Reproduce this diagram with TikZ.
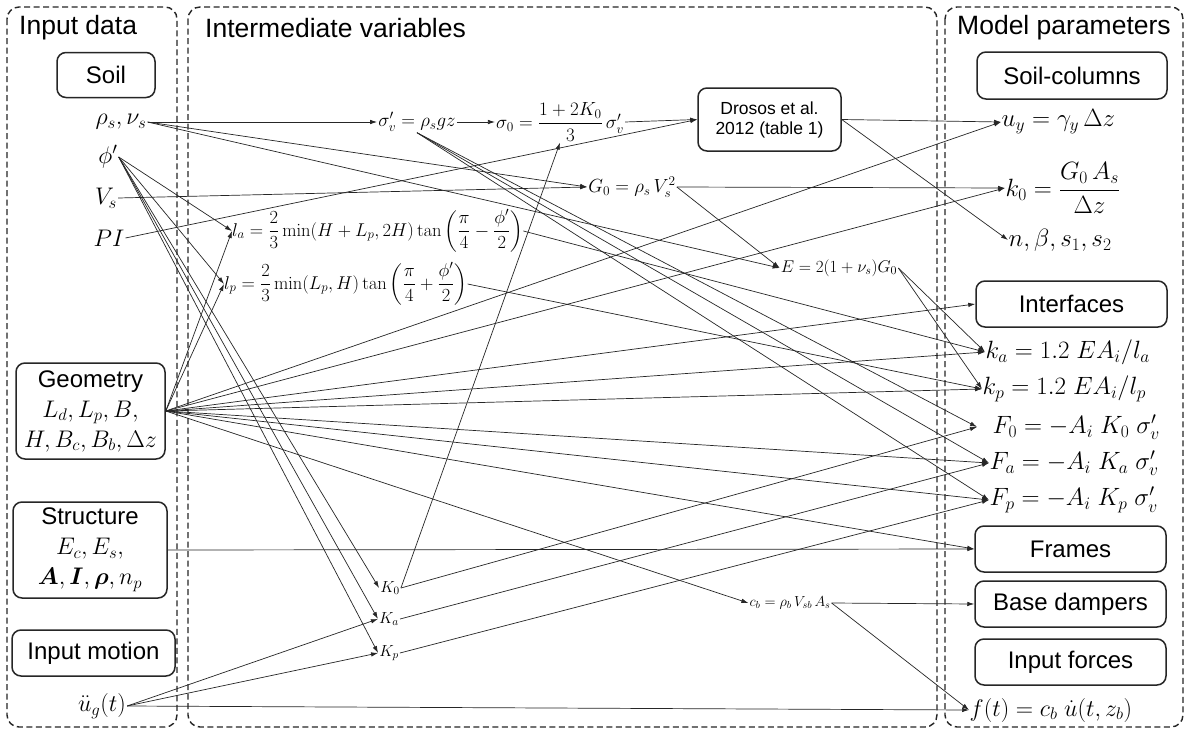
\RequirePackage{fix-cm}
\documentclass[tikz,border=0pt]{standalone}
\usepackage{amsmath}
\usepackage[no-math]{fontspec}
\setmainfont{Liberation Sans}
\usetikzlibrary{arrows.meta}
\newcommand\fsz[2]{\fontsize{#1}{#2}\selectfont}
\begin{document}
\begin{tikzpicture}[x=1pt,y=-1pt,
  frame/.style={draw=black!85, line width=1.4pt, dash pattern=on 6pt off 3.5pt, rounded corners=12pt},
  catbox/.style={draw=black!85, line width=1.5pt, rounded corners=9pt, inner sep=0pt, align=center, font=\fsz{24}{30}},
  ttl/.style={anchor=west, inner sep=0pt, font=\fsz{26.5}{30}},
  inp/.style={inner sep=1pt, font=\fsz{24}{28}},
  mid/.style={inner sep=1pt, font=\fsz{19}{22}},
  small/.style={inner sep=1pt, font=\fsz{16}{18}},
  outp/.style={inner sep=0.5pt, anchor=west, font=\fsz{25}{28}},
  conn/.style={line width=0.7pt, draw=black!85, -{Latex[length=7pt,width=4.5pt]}},
]
\useasboundingbox (0,0) rectangle (1184,731);
\fill[white] (0,0) rectangle (1184,731);

% column frames
\draw[frame] (7,7) rectangle (177,727);
\draw[frame] (188,7) rectangle (937,727);
\draw[frame] (945,7) rectangle (1183,727);

% titles
\node[ttl] (tin) at (19,28) {Input data};
\node[ttl] (tmid) at (205,28) {Intermediate variables};
\node[ttl] (tout) at (957,28) {Model parameters};

% input column
\node[catbox, minimum width=98pt, minimum height=45pt] (soil) at (106,75) {Soil};
\node[inp] (rho) at (121,122) {$\rho_s,\nu_s$};
\node[inp] (phi) at (108,157) {$\phi'$};
\node[inp] (vs) at (106,198) {$V_s$};
\node[inp] (pi) at (109,238) {$PI$};
\node[catbox, minimum width=149pt, minimum height=96pt] (geo) at (90.5,411) {Geometry\\ $L_d,L_p,B,$\\ $H,B_c,B_b,\Delta z$};
\node[catbox, minimum width=154pt, minimum height=96pt] (str) at (90,550) {Structure\\ $E_c,E_s,$\\ $\boldsymbol{A},\boldsymbol{I},\boldsymbol{\rho},n_p$};
\node[catbox, minimum width=163pt, minimum height=46pt] (mot) at (93.5,653) {Input motion};
\node[inp] (ug) at (102,706) {$\ddot{u}_g(t)$};

% intermediate column
\node[mid] (sigv) at (417,122) {$\sigma'_v=\rho_s gz$};
\node[mid] (sig0) at (560,122) {$\sigma_0=\dfrac{1+2K_0}{3}\,\sigma'_v$};
\node[catbox, font=\fsz{17.5}{20}, minimum width=143pt, minimum height=63pt] (dros) at (769.5,119.5) {Drosos et al.\\2012 (table 1)};
\node[mid] (G0) at (632,187) {$G_0=\rho_s\,V_s^2$};
\node[mid, font=\fsz{18.5}{22}, inner sep=0pt, anchor=west] (la) at (232,231) {$l_a=\dfrac{2}{3}\min\!\left(H+L_p,2H\right)\tan\left(\dfrac{\pi}{4}-\dfrac{\phi'}{2}\right)$};
\node[mid, font=\fsz{18.5}{22}, inner sep=0pt, anchor=west] (lp) at (224,284) {$l_p=\dfrac{2}{3}\min\!\left(L_p,H\right)\tan\left(\dfrac{\pi}{4}+\dfrac{\phi'}{2}\right)$};
\node[small, font=\fsz{17}{20}] (E) at (839,268) {$E=2(1+\nu_s)G_0$};
\node[small] (K0) at (390,588) {$K_0$};
\node[small] (Ka) at (389,619) {$K_a$};
\node[small] (Kp) at (389,653) {$K_p$};
\node[small, font=\fsz{14.5}{17}] (cb) at (790,603) {$c_b=\rho_b\,V_{sb}\,A_s$};

% model parameters column
\node[catbox, minimum width=190pt, minimum height=47pt] (scol) at (1072,75.5) {Soil-columns};
\node[outp] (uy) at (1001,122) {$u_y=\gamma_y\,\Delta z$};
\node[outp] (k0) at (1005,188) {$k_0=\dfrac{G_0\,A_s}{\Delta z}$};
\node[outp] (nb) at (1008,240) {$n,\beta,s_1,s_2$};
\node[catbox, minimum width=191pt, minimum height=46pt] (intf) at (1071.5,304) {Interfaces};
\node[outp] (ka) at (985,352) {$k_a=1.2\;EA_i/l_a$};
\node[outp] (kp) at (982,389) {$k_p=1.2\;EA_i/l_p$};
\node[outp] (F0) at (977,427) {\hspace*{15pt}$F_0=-A_i\;K_0\;\sigma'_v$};
\node[outp] (Fa) at (989,463) {$F_a=-A_i\;K_a\;\sigma'_v$};
\node[outp] (Fp) at (989,500) {$F_p=-A_i\;K_p\;\sigma'_v$};
\node[catbox, minimum width=191pt, minimum height=46pt] (fr) at (1070.5,549) {Frames};
\node[catbox, minimum width=191pt, minimum height=46pt] (bd) at (1070.5,604) {Base dampers};
\node[catbox, minimum width=191pt, minimum height=46pt] (ifc) at (1070.5,662) {Input forces};
\node[outp, font=\fsz{24}{28}] (ft) at (969,710) {$f(t)=c_b\;\dot{u}(t,z_b)$};

% connectors
\draw[conn] (rho.east) -- (sigv.west);
\draw[conn] (rho.east) -- (G0.west);
\draw[conn] (rho.east) -- (E.west);
\draw[conn] (phi.east) -- (la.west);
\draw[conn] (phi.east) -- (lp.west);
\draw[conn] (phi.east) -- (K0.west);
\draw[conn] (phi.east) -- (Ka.west);
\draw[conn] (phi.east) -- (Kp.west);
\draw[conn] (vs.east) -- (G0.west);
\draw[conn] (pi.east) -- (dros.west);
\draw[conn] (geo.east) -- (la.west);
\draw[conn] (geo.east) -- (lp.west);
\draw[conn] (geo.east) -- (uy.west);
\draw[conn] (geo.east) -- (k0.west);
\draw[conn] (geo.east) -- (intf.west);
\draw[conn] (geo.east) -- (ka.west);
\draw[conn] (geo.east) -- (kp.west);
\draw[conn] (geo.east) -- (Fa.west);
\draw[conn] (geo.east) -- (Fp.west);
\draw[conn] (geo.east) -- (fr.west);
\draw[conn] (geo.east) -- (cb.west);
\draw[conn] (str.east) -- (fr.west);
\draw[conn] (ug.east) -- (Ka.west);
\draw[conn] (ug.east) -- (Kp.west);
\draw[conn] (ug.east) -- (ft.west);
\draw[conn] (sigv.east) -- (sig0.west);
\draw[conn] (sigv.south) -- (F0.west);
\draw[conn] (sigv.south) -- (Fa.west);
\draw[conn] (sigv.south) -- (Fp.west);
\draw[conn] (sig0.east) -- (dros.west);
\draw[conn] (K0.east) -- (sig0.south);
\draw[conn] (K0.east) -- (F0.west);
\draw[conn] (Ka.east) -- (Fa.west);
\draw[conn] (Kp.east) -- (Fp.west);
\draw[conn] (G0.east) -- (k0.west);
\draw[conn] (G0.east) -- (E.west);
\draw[conn] (E.east) -- (ka.west);
\draw[conn] (E.east) -- (kp.west);
\draw[conn] (la.east) -- (ka.west);
\draw[conn] (lp.east) -- (kp.west);
\draw[conn] (dros.east) -- (uy.west);
\draw[conn] (dros.east) -- (nb.west);
\draw[conn] (cb.east) -- (bd.west);
\draw[conn] (cb.east) -- (ft.west);
\end{tikzpicture}
\end{document}
